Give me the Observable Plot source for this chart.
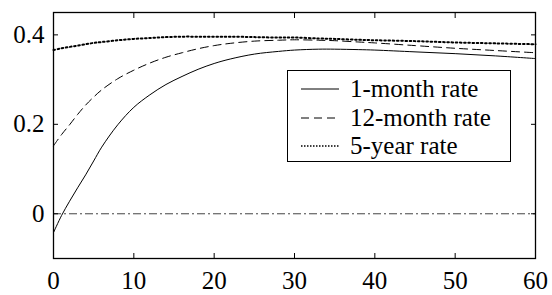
<!DOCTYPE html>
<html>
<head>
<meta charset="utf-8">
<script src="https://cdn.jsdelivr.net/npm/d3@7"></script>
<script src="https://cdn.jsdelivr.net/npm/@observablehq/plot@0.6"></script>
<style>
  html, body { margin: 0; padding: 0; background: white; }
  #wrap { position: relative; width: 552px; height: 295px; font-family: "Liberation Serif", "Times New Roman", Times, serif; }
  #wrap svg text { font-family: "Liberation Serif", "Times New Roman", Times, serif; }
  #legend { position: absolute; left: 287px; top: 70px; width: 222px; height: 90px; border: 1px solid black; background: white; box-sizing: content-box; }
  .row { position: absolute; left: 0; height: 28px; display: flex; align-items: center; font-size: 25px; line-height: 28px; color: black; white-space: nowrap; font-family: "Liberation Serif", "Times New Roman", Times, serif; }
  .row svg { margin-left: 13px; margin-right: 11px; }
</style>
</head>
<body>
<div id="wrap"></div>
<script>
const months = [0,1,2,3,4,5,6,8,10,12,14,16,18,20,22,25,28,30,33,35,38,40,45,50,55,60];
const rate1m = [-0.042,-0.004,0.028,0.058,0.087,0.118,0.149,0.199,0.238,0.266,0.289,0.307,0.323,0.336,0.346,0.357,0.363,0.366,0.368,0.368,0.367,0.366,0.362,0.358,0.353,0.347];
const rate12m = [0.152,0.177,0.199,0.222,0.243,0.261,0.277,0.302,0.321,0.337,0.350,0.360,0.369,0.376,0.381,0.386,0.388,0.389,0.388,0.387,0.384,0.382,0.376,0.370,0.365,0.360];
const rate5y = [0.366,0.370,0.373,0.376,0.379,0.382,0.384,0.388,0.391,0.393,0.395,0.396,0.396,0.396,0.396,0.395,0.394,0.394,0.392,0.391,0.389,0.388,0.386,0.383,0.381,0.379];
const seriesNames = ["1-month rate", "12-month rate", "5-year rate"];
const xTicks = [0,10,20,30,40,50,60];
const yTicks = [0,0.2,0.4];

const toRows = (vals) => months.map((m, i) => ({m, v: vals[i]}));
const styles = [
  {stroke: "black", strokeWidth: 1, dash: null},
  {stroke: "black", strokeWidth: 1, dash: "8,5"},
  {stroke: "black", strokeWidth: 2, dash: "1.6,2.6"}
];
const seriesVals = [rate1m, rate12m, rate5y];
const serif = '"Liberation Serif", "Times New Roman", Times, serif';

const chart = Plot.plot({
  width: 552,
  height: 295,
  marginLeft: 53,
  marginRight: 17,
  marginTop: 12,
  marginBottom: 37,
  x: {domain: [0, 60]},
  y: {domain: [-0.1, 0.45]},
  style: {fontFamily: serif, fontSize: "25px", background: "white", color: "black"},
  marks: [
    Plot.ruleY([0], {stroke: "#444", strokeWidth: 1, strokeDasharray: "8,3,2,3"}),
    ...seriesVals.map((vals, i) => Plot.line(toRows(vals), {
      x: "m", y: "v", curve: "catmull-rom",
      stroke: styles[i].stroke, strokeWidth: styles[i].strokeWidth,
      strokeDasharray: styles[i].dash
    })),
    Plot.frame({stroke: "black", strokeWidth: 1.3}),
    Plot.axisX({ticks: xTicks, anchor: "bottom", tickSize: 0, tickPadding: 13, label: null, fontSize: 25, tickFormat: d => String(d)}),
    Plot.axisX({ticks: xTicks, anchor: "bottom", tickSize: -5, text: null, label: null}),
    Plot.axisX({ticks: xTicks, anchor: "top", tickSize: -5, text: null, label: null}),
    Plot.axisY({ticks: yTicks, anchor: "left", tickSize: 0, tickPadding: 9, label: null, fontSize: 25, tickFormat: d => String(d)}),
    Plot.axisY({ticks: yTicks, anchor: "left", tickSize: -5, text: null, label: null}),
    Plot.axisY({ticks: yTicks, anchor: "right", tickSize: -5, text: null, label: null})
  ]
});
const wrap = document.getElementById("wrap");
wrap.appendChild(chart);

// legend
const legend = document.createElement("div");
legend.id = "legend";
seriesNames.forEach((name, i) => {
  const row = document.createElement("div");
  row.className = "row";
  row.style.top = (4 + i * 28.5) + "px";
  const ns = "http://www.w3.org/2000/svg";
  const s = document.createElementNS(ns, "svg");
  s.setAttribute("width", 38); s.setAttribute("height", 10);
  const ln = document.createElementNS(ns, "line");
  ln.setAttribute("x1", 0); ln.setAttribute("x2", 38);
  ln.setAttribute("y1", 5); ln.setAttribute("y2", 5);
  ln.setAttribute("stroke", styles[i].stroke);
  ln.setAttribute("stroke-width", i === 2 ? 1.6 : styles[i].strokeWidth);
  if (styles[i].dash) ln.setAttribute("stroke-dasharray", i === 2 ? "1.5,1.5" : styles[i].dash);
  s.appendChild(ln);
  row.appendChild(s);
  const t = document.createElement("span");
  t.textContent = name;
  row.appendChild(t);
  legend.appendChild(row);
});
wrap.appendChild(legend);
</script>
</body>
</html>
